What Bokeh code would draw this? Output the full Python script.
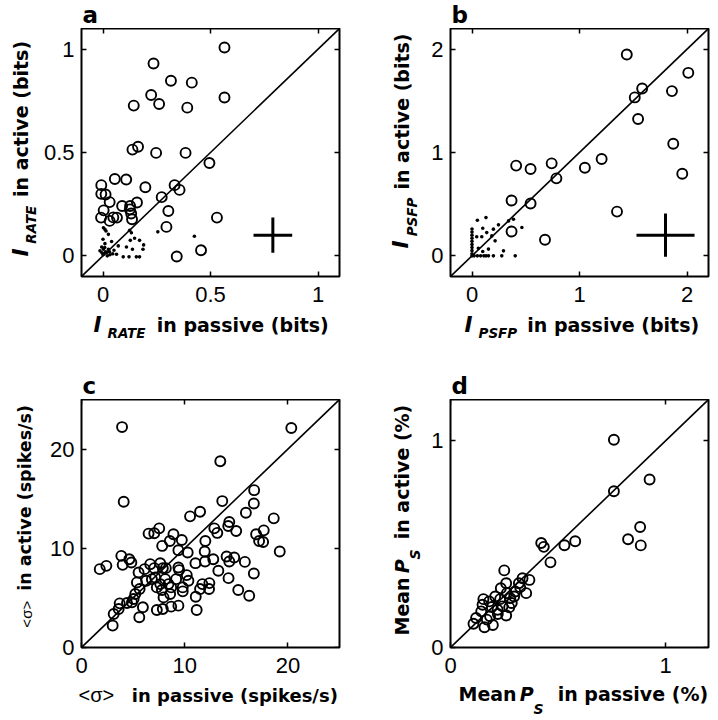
import math
from bokeh.plotting import figure
from bokeh.layouts import column, row
from bokeh.models import Range1d, FixedTicker, LinearAxis, Label
from bokeh.embed import file_html
from bokeh.resources import INLINE

# ---------------- data ----------------
# panel a : I_RATE
a_circ_x = [0.565, 0.235, 0.316, 0.413, 0.224, 0.565, 0.143, 0.261, 0.392, 0.137,
            0.163, 0.247, 0.384, 0.495, 0.055, 0.108, -0.008, 0.197, 0.333, 0.356,
            0.273, -0.008, 0.012, 0.031, 0.089, 0.126, 0.158, 0.003, 0.304, -0.009,
            0.065, 0.031, 0.131, 0.135, 0.295, 0.530, 0.456, 0.343, 0.048, 0.125]
a_circ_y = [1.008, 0.931, 0.847, 0.838, 0.778, 0.766, 0.727, 0.735, 0.717, 0.514,
            0.528, 0.498, 0.498, 0.449, 0.372, 0.369, 0.342, 0.332, 0.342, 0.319,
            0.284, 0.300, 0.297, 0.260, 0.241, 0.241, 0.258, 0.220, 0.217, 0.185,
            0.185, 0.169, 0.205, 0.177, 0.140, 0.185, 0.027, -0.003, 0.186, 0.225]
a_dot_x = [0.002, 0.014, 0.025, 0.000, 0.009, 0.002, 0.017, 0.000, 0.032, 0.051,
           0.063, 0.040, 0.071, 0.094, 0.121, 0.155, 0.170, 0.186, 0.189, 0.170,
           0.147, 0.127, 0.137, 0.109, 0.124, 0.132, 0.255, 0.425, 0.009, -0.014,
           -0.006, 0.025, 0.005, 0.012, 0.020, -0.005, 0.008, 0.030, 0.045]
a_dot_y = [0.136, 0.120, 0.104, 0.080, 0.059, 0.032, 0.016, 0.005, 0.005, 0.027,
           0.008, 0.069, 0.048, -0.005, -0.005, -0.005, -0.005, 0.032, 0.053, 0.075,
           0.085, 0.075, 0.032, 0.043, 0.124, 0.112, 0.116, 0.095, 0.128, 0.024,
           0.043, 0.032, 0.010, 0.020, 0.000, 0.015, 0.040, 0.020, 0.010]
a_err_x, a_err_y, a_err_dx, a_err_dy = 0.79, 0.10, 0.09, 0.085

# panel b : I_PSFP
b_circ_x = [1.44, 2.012, 1.583, 1.514, 1.860, 1.545, 1.872, 1.956, 1.206, 1.050,
            0.741, 0.785, 0.411, 0.545, 0.368, 0.545, 1.349, 0.368, 0.679]
b_circ_y = [1.948, 1.771, 1.620, 1.533, 1.594, 1.324, 1.085, 0.795, 0.937, 0.853,
            0.895, 0.750, 0.873, 0.841, 0.535, 0.506, 0.428, 0.235, 0.155]
b_dot_x = [0.050, 0.130, 0.100, 0.199, 0.246, 0.340, 0.386, 0.464, 0.044, 0.091,
           0.137, 0.184, 0.215, 0.100, 0.153, 0.293, 0.059, 0.153, 0.199, 0.277,
           0.402, 0.0, 0.0, 0.0, 0.0, 0.0, 0.0, 0.0, 0.0, 0.0, 0.0,
           0.02, 0.05, 0.08, 0.11, 0.13]
b_dot_y = [0.345, 0.370, 0.267, 0.258, 0.300, 0.338, 0.354, 0.274, 0.184, 0.184,
           0.225, 0.193, 0.145, 0.042, 0.065, 0.048, 0.074, 0.0, 0.0, 0.0,
           0.0, 0.26, 0.23, 0.20, 0.17, 0.14, 0.11, 0.08, 0.05, 0.02, 0.0,
           0.0, 0.0, 0.0, 0.0, 0.0]
b_err_x, b_err_y, b_err_dx, b_err_dy = 1.80, 0.20, 0.27, 0.21

# panel c : <sigma>
c_x = [3.93, 20.33, 13.45, 4.09, 13.64, 16.73, 16.70, 15.93, 18.63, 11.49, 10.52, 6.50,
       7.05, 7.53, 8.91, 9.72, 7.82, 8.56, 12.0, 12.87, 13.16, 14.32, 14.22, 14.99,
       16.92, 17.66, 17.21, 17.6, 19.21, 9.39, 10.29, 11.94, 11.04, 11.97, 12.77, 14.06,
       14.80, 14.32, 15.83, 13.26, 16.70, 14.25, 15.19, 16.25, 1.77, 2.41, 3.86, 3.99,
       4.63, 4.83, 5.53, 6.11, 6.66, 7.05, 7.63, 7.88, 8.17, 9.39, 9.46, 9.17, 10.20,
       10.36, 9.81, 9.81, 11.07, 11.49, 11.71, 12.39, 12.36, 11.16, 5.37, 6.27, 6.82,
       7.14, 7.30, 7.63, 7.79, 7.95, 8.11, 8.43, 8.59, 8.69, 7.30, 7.88, 8.69, 9.39,
       5.21, 4.89, 4.41, 3.70, 3.60, 3.12, 3.02, 5.60, 5.95, 5.05, 5.63]
c_y = [22.22, 22.12, 18.78, 14.69, 14.76, 15.86, 14.52, 13.59, 13.02, 13.69, 13.22, 11.48,
       11.51, 12.01, 11.41, 10.84, 10.24, 10.74, 10.74, 12.01, 11.55, 12.65, 12.25, 11.75,
       11.41, 11.81, 10.74, 10.64, 9.67, 9.81, 9.57, 9.67, 8.50, 8.67, 8.90, 9.17,
       9.07, 8.67, 8.63, 7.73, 7.46, 6.99, 5.79, 5.22, 7.90, 8.23, 9.24, 8.33,
       8.90, 8.57, 7.56, 7.90, 8.40, 8.00, 8.50, 8.00, 8.00, 8.07, 7.80, 6.89, 7.30,
       6.73, 6.06, 5.66, 5.12, 5.89, 6.39, 6.49, 5.89, 3.78, 6.56, 6.73, 6.89,
       7.06, 6.06, 6.39, 5.79, 5.05, 6.89, 6.39, 5.39, 6.06, 3.78, 3.88, 4.12, 4.22,
       5.39, 4.55, 4.48, 4.45, 3.88, 3.38, 2.21, 3.05, 4.05, 4.89, 5.89]

# panel d : mean P_S
d_x = [0.760, 0.926, 0.760, 0.882, 0.826, 0.885, 0.422, 0.434, 0.530, 0.580, 0.465, 0.250,
       0.335, 0.367, 0.318, 0.259, 0.234, 0.301, 0.352, 0.262, 0.208, 0.153, 0.180, 0.231,
       0.278, 0.296, 0.149, 0.192, 0.242, 0.273, 0.143, 0.184, 0.220, 0.259, 0.119, 0.107,
       0.158, 0.197, 0.169, 0.219, 0.324, 0.285]
d_y = [1.005, 0.813, 0.756, 0.583, 0.524, 0.494, 0.506, 0.487, 0.495, 0.514, 0.412, 0.373,
       0.335, 0.327, 0.311, 0.311, 0.287, 0.271, 0.263, 0.263, 0.247, 0.234, 0.223, 0.234,
       0.239, 0.247, 0.207, 0.196, 0.199, 0.194, 0.175, 0.151, 0.162, 0.155, 0.143, 0.115,
       0.098, 0.109, 0.135, 0.183, 0.292, 0.215]

a_range = (-0.1, 1.1); a_ticks = [0, 0.5, 1]; a_tick_labels = ["0", "0.5", "1"]
b_range = (-0.2, 2.2); b_ticks = [0, 1, 2]; b_tick_labels = ["0", "1", "2"]
c_range = (0, 25); c_ticks = [0, 10, 20]; c_tick_labels = ["0", "10", "20"]
d_range = (0, 1.2); d_ticks = [0, 1]; d_tick_labels = ["0", "1"]

# ---------------- helpers ----------------
LBL_FONT = "DejaVu Sans"
TICK_FONT = "Liberation Sans"
W_DV = {' ': 0.348, '(': 0.458, ')': 0.458, '%': 1.002, '/': 0.365, '<': 0.838, '>': 0.838,
        'a': 0.675, 'b': 0.716, 'c': 0.593, 'e': 0.678, 'i': 0.343, 'k': 0.662, 'n': 0.712,
        'p': 0.716, 's': 0.595, 't': 0.478, 'v': 0.652, 'M': 0.995, 'P': 0.733, 'S': 0.720,
        'F': 0.683, 'R': 0.770, 'A': 0.774, 'T': 0.682, 'E': 0.683, 'I': 0.372}
W_LIB = {'<': 0.584, '>': 0.584, 'σ': 0.60}
MID = 0.346       # middle of the text box above the baseline, in em

FW, FH = 258, 248
BOT = 35          # space under each frame for tick labels
TOTAL_W = 716


def tw(s, size, table):
    return sum(table.get(ch, 0.6) for ch in s) * size


def style_axis(ax, ticks, tick_labels, t_in, t_out, hidden):
    ax.ticker = FixedTicker(ticks=ticks)
    ax.axis_line_color = None
    ax.major_tick_in = t_in
    ax.major_tick_out = t_out
    ax.major_tick_line_width = 1.5
    ax.major_tick_line_color = "black"
    ax.minor_tick_line_color = None
    ax.major_label_text_font = TICK_FONT
    ax.major_label_text_color = "black"
    if hidden:
        ax.major_label_overrides = {t: "" for t in ticks}
        ax.major_label_text_font_size = "0px"
        ax.major_label_text_color = None
        ax.major_label_standoff = 0
    else:
        ax.major_label_overrides = {t: l for t, l in zip(ticks, tick_labels)}
        ax.major_label_text_font_size = "22px"


def make_panel(rng, ticks, tick_labels, left, right):
    p = figure(x_range=Range1d(*rng), y_range=Range1d(*rng), frame_width=FW, frame_height=FH,
               min_border_left=left, min_border_right=right, min_border_top=0,
               min_border_bottom=BOT, output_backend="svg", toolbar_location=None,
               background_fill_color="white", border_fill_color="white")
    p.grid.visible = False
    p.outline_line_color = "black"
    p.outline_line_width = 2
    style_axis(p.xaxis[0], ticks, tick_labels, 5, 0, False)
    style_axis(p.yaxis[0], ticks, tick_labels, 5, 0, False)
    p.xaxis[0].major_label_standoff = 10
    p.yaxis[0].major_label_standoff = 7
    # mirrored inward ticks on the top and right edges
    top_ax = LinearAxis(fixed_location=rng[1])
    style_axis(top_ax, ticks, tick_labels, 0, 5, True)
    p.add_layout(top_ax, "below")
    right_ax = LinearAxis(fixed_location=rng[1])
    style_axis(right_ax, ticks, tick_labels, 0, 5, True)
    p.add_layout(right_ax, "left")
    return p


def label_fig(w, h, bottom=0):
    # data units are pixels measured from the frame's bottom-left corner
    f = figure(frame_width=w, frame_height=h, x_range=Range1d(0, w), y_range=Range1d(0, h),
               x_axis_type=None, y_axis_type=None, toolbar_location=None, output_backend="svg",
               min_border=0, min_border_left=0, min_border_right=0, min_border_top=0,
               min_border_bottom=bottom, background_fill_color="white",
               border_fill_color="white")
    f.outline_line_color = None
    return f


def put_h(f, x, base, text, font, size, style):
    # base: alphabetic baseline, px above the frame bottom
    f.add_layout(Label(x=x, y=base + MID * size, text=text, text_font=font,
                       text_font_size=f"{size}px", text_font_style=style,
                       text_baseline="middle", text_align="left", text_color="black"))


def put_v(f, base, y0, text, font, size, style, table):
    # rotated text reading upwards; base: baseline x, y0: start of text (px above bottom)
    w = tw(text, size, table)
    f.add_layout(Label(x=base - MID * size, y=y0 + w / 2, text=text, text_font=font,
                       text_font_size=f"{size}px", text_font_style=style, angle=math.pi / 2,
                       text_baseline="middle", text_align="center", text_color="black"))
    return w


def xlabel(f, x_start, base, pieces):
    pos = x_start
    for text, font, size, style, shift, gap, table in pieces:
        put_h(f, pos, base - shift, text, font, size, style)
        pos += tw(text, size, table) + gap


def ylabel(f, base, y_start, pieces):
    pos = y_start
    for text, font, size, style, shift, gap, table in pieces:
        pos += put_v(f, base + shift, pos, text, font, size, style, table) + gap


def scatter_panel(p, rng, cx, cy, dx=None, dy=None):
    p.line(x=list(rng), y=list(rng), line_color="black", line_width=1.6)
    if dx is not None:
        p.scatter(x=dx, y=dy, size=3.6, marker="circle", fill_color="black", line_color=None)
    p.scatter(x=cx, y=cy, size=10, marker="circle", fill_color=None,
              line_color="black", line_width=1.9)


def cross(p, cx, cy, hx, hy):
    p.segment(x0=[cx - hx, cx], y0=[cy, cy - hy], x1=[cx + hx, cx], y1=[cy, cy + hy],
              line_color="black", line_width=3)


# ---------- strips with letters and x labels ----------
strip_top = label_fig(TOTAL_W, 28)
put_h(strip_top, 82, 6, "a", LBL_FONT, 23, "bold")
put_h(strip_top, 451, 6, "b", LBL_FONT, 23, "bold")

strip_mid = label_fig(TOTAL_W, 88)
xlabel(strip_mid, 93, 68, [
    ("I", LBL_FONT, 21.5, "bold italic", 0, 6, W_DV),
    ("RATE", LBL_FONT, 13.5, "bold italic", 6, 10, W_DV),
    ("in passive (bits)", LBL_FONT, 19, "bold", 0, 0, W_DV)])
xlabel(strip_mid, 464, 68, [
    ("I", LBL_FONT, 21.5, "bold italic", 0, 6, W_DV),
    ("PSFP", LBL_FONT, 13.5, "bold italic", 6, 10, W_DV),
    ("in passive (bits)", LBL_FONT, 19, "bold", 0, 0, W_DV)])
put_h(strip_mid, 82, 6, "c", LBL_FONT, 23, "bold")
put_h(strip_mid, 451, 6, "d", LBL_FONT, 23, "bold")

strip_bot = label_fig(TOTAL_W, 36)
xlabel(strip_bot, 78, 17, [
    ("<σ>", TICK_FONT, 20, "normal", 0, 18, W_LIB),
    ("in passive (spikes/s)", LBL_FONT, 18, "bold", 0, 0, W_DV)])
xlabel(strip_bot, 458, 18, [
    ("Mean", LBL_FONT, 19, "bold", 0, 3, W_DV),
    ("P", LBL_FONT, 19, "bold italic", 0, 0, W_DV),
    ("S", LBL_FONT, 14, "bold italic", 13, 14, W_DV),
    ("in passive (%)", LBL_FONT, 19, "bold", 0, 0, W_DV)])

# ---------- y label columns (frames aligned with the panel frames) ----------
ylab_a = label_fig(40, FH, BOT)
ylabel(ylab_a, 27.5, 20, [
    ("I", LBL_FONT, 22, "bold italic", 0, 4, W_DV),
    ("RATE", LBL_FONT, 13.5, "bold italic", 8, 8, W_DV),
    ("in active (bits)", LBL_FONT, 19, "bold", 0, 0, W_DV)])
ylab_b = label_fig(38, FH, BOT)
ylabel(ylab_b, 23, 28, [
    ("I", LBL_FONT, 22, "bold italic", 0, 4, W_DV),
    ("PSFP", LBL_FONT, 13.5, "bold italic", 8, 8, W_DV),
    ("in active (bits)", LBL_FONT, 19, "bold", 0, 0, W_DV)])
ylab_c = label_fig(40, FH, BOT)
ylabel(ylab_c, 31, 20, [
    ("<σ>", TICK_FONT, 15, "normal", 0, 10, W_LIB),
    ("in active (spikes/s)", LBL_FONT, 17.5, "bold", 0, 0, W_DV)])
ylab_d = label_fig(38, FH, BOT)
ylabel(ylab_d, 23, 12, [
    ("Mean", LBL_FONT, 19, "bold", 0, 4, W_DV),
    ("P", LBL_FONT, 19, "bold italic", 0, 0, W_DV),
    ("S", LBL_FONT, 14, "bold italic", 11, 10, W_DV),
    ("in active (%)", LBL_FONT, 19, "bold", 0, 0, W_DV)])

# ---------- panels ----------
pa = make_panel(a_range, a_ticks, a_tick_labels, 41, 46)
scatter_panel(pa, a_range, a_circ_x, a_circ_y, a_dot_x, a_dot_y)
cross(pa, a_err_x, a_err_y, a_err_dx, a_err_dy)

pb = make_panel(b_range, b_ticks, b_tick_labels, 27, 8)
scatter_panel(pb, b_range, b_circ_x, b_circ_y, b_dot_x, b_dot_y)
cross(pb, b_err_x, b_err_y, b_err_dx, b_err_dy)

pc = make_panel(c_range, c_ticks, c_tick_labels, 41, 46)
scatter_panel(pc, c_range, c_x, c_y)

pd_ = make_panel(d_range, d_ticks, d_tick_labels, 27, 8)
scatter_panel(pd_, d_range, d_x, d_y)

layout = column(
    strip_top,
    row(ylab_a, pa, ylab_b, pb),
    strip_mid,
    row(ylab_c, pc, ylab_d, pd_),
    strip_bot,
)
open("out.html", "w").write(file_html(layout, INLINE))
